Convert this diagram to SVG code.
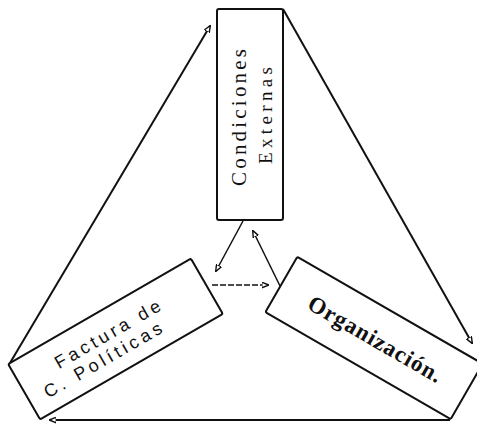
<svg xmlns="http://www.w3.org/2000/svg" width="477" height="426" viewBox="0 0 477 426">
  <defs>
    <marker id="arr" viewBox="0 0 10 10" refX="9" refY="5" markerWidth="7" markerHeight="7" orient="auto" markerUnits="userSpaceOnUse">
      <path d="M0,1 L10,5 L0,9 z" fill="#fff" stroke="#111" stroke-width="2"/>
    </marker>
  </defs>
  <style>
    .box { fill: #fff; stroke: #111; stroke-width: 2; }
    .line { fill: none; stroke: #111; stroke-width: 2; }
    .thin { fill: none; stroke: #111; stroke-width: 1.5; }
    .dash { fill: none; stroke: #111; stroke-width: 1.5; stroke-dasharray: 6 2; }
    .t { font-family: "Liberation Serif", serif; fill: #111; }
    .s { font-family: "Liberation Sans", sans-serif; fill: #111; }
  </style>
  <rect width="477" height="426" fill="#fff"/>
  <g id="connectors">
    <line class="line" x1="10" y1="363" x2="210" y2="26" marker-end="url(#arr)"/>
    <line class="line" x1="283" y1="9" x2="472" y2="343" marker-end="url(#arr)"/>
    <line class="line" x1="450" y1="420" x2="50" y2="420" marker-end="url(#arr)"/>
    <line class="thin" x1="243" y1="221" x2="216" y2="271" marker-end="url(#arr)"/>
    <line class="dash" x1="212" y1="285" x2="268" y2="285" marker-end="url(#arr)"/>
    <line class="thin" x1="281" y1="288" x2="253" y2="231" marker-end="url(#arr)"/>
  </g>
  <g id="condiciones-externas">
    <rect class="box" x="217" y="9" width="66" height="211" rx="2"/>
    <text class="t" font-size="21" transform="translate(246,186) rotate(-90)" textLength="137" lengthAdjust="spacing">Condiciones</text>
    <text class="t" font-size="19" transform="translate(272,164) rotate(-90)" textLength="97" lengthAdjust="spacing">Externas</text>
  </g>
  <g id="factura-politicas" transform="translate(115.5,339) rotate(-30)">
    <rect class="box" x="-105.5" y="-32" width="211" height="64" rx="2"/>
    <text class="s" font-size="18" x="-64" y="-2" textLength="119" lengthAdjust="spacing">Factura de</text>
    <text class="s" font-size="18" x="-88" y="18" textLength="133" lengthAdjust="spacing">C.  Políticas</text>
  </g>
  <g id="organizacion" transform="translate(374,338) rotate(30)">
    <rect class="box" x="-107" y="-32" width="214" height="64" rx="2"/>
    <text class="t" font-size="23" font-weight="bold" x="-74" y="8" textLength="151" lengthAdjust="spacing">Organización.</text>
  </g>
</svg>
